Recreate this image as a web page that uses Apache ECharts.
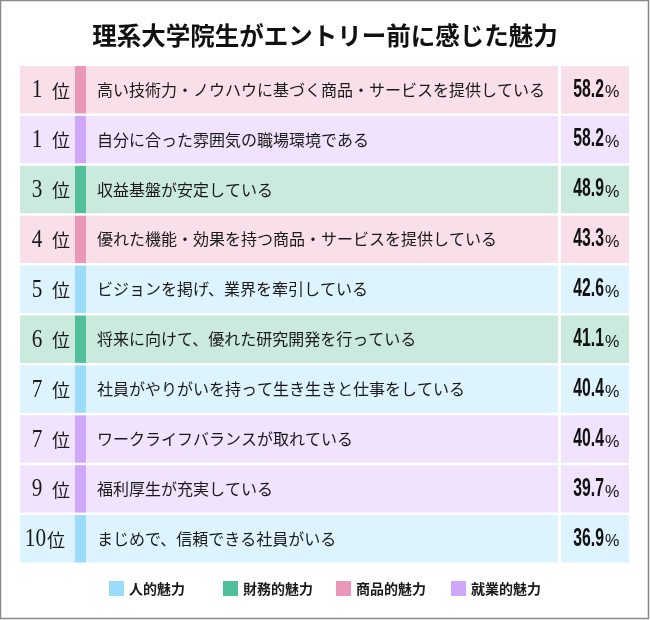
<!DOCTYPE html>
<html>
<head>
<meta charset="utf-8">
<script src="https://cdn.jsdelivr.net/npm/echarts@6/dist/echarts.min.js"></script>
<style>
  html, body { margin: 0; padding: 0; background: #fff; }
  #chart { width: 650px; height: 620px; }
</style>
</head>
<body>
<div id="chart"></div>
<script>
// data
var ranks = ['1', '1', '3', '4', '5', '6', '7', '7', '9', '10'];
var items = [
    '高い技術力・ノウハウに基づく商品・サービスを提供している',
    '自分に合った雰囲気の職場環境である',
    '収益基盤が安定している',
    '優れた機能・効果を持つ商品・サービスを提供している',
    'ビジョンを掲げ、業界を牽引している',
    '将来に向けて、優れた研究開発を行っている',
    '社員がやりがいを持って生き生きと仕事をしている',
    'ワークライフバランスが取れている',
    '福利厚生が充実している',
    'まじめで、信頼できる社員がいる'
];
var values = [58.2, 58.2, 48.9, 43.3, 42.6, 41.1, 40.4, 40.4, 39.7, 36.9];
var groups = ['商品的魅力', '就業的魅力', '財務的魅力', '商品的魅力', '人的魅力',
              '財務的魅力', '人的魅力', '就業的魅力', '就業的魅力', '人的魅力'];
var groupNames = ['人的魅力', '財務的魅力', '商品的魅力', '就業的魅力'];

var stripColors = {
    '人的魅力': '#9bdcfb',
    '財務的魅力': '#52bf9b',
    '商品的魅力': '#eb97b9',
    '就業的魅力': '#cfa8fb'
};
var bgColors = {
    '人的魅力': '#ddf3fd',
    '財務的魅力': '#cbeade',
    '商品的魅力': '#f9dfea',
    '就業的魅力': '#f1e3fd'
};
var legendLeft = [109, 223, 336, 451];

var JP = '"Noto Sans CJK JP", sans-serif';
var SERIF = '"Liberation Serif", serif';
var SANS = '"Liberation Sans", sans-serif';

function renderRow(params, api) {
    var i = api.value(0);
    var name = groupNames[params.seriesIndex];
    var cy = api.coord([0, i])[1];
    var band = api.size([0, 1])[1];
    var cs = params.coordSys;
    var x0 = cs.x;
    var right = cs.x + cs.width;
    var top = cy - band / 2;
    var h = band - 2.5;
    var mid = top + h / 2;
    var bg = bgColors[name];
    var rank = ranks[i];
    var pct = values[i].toFixed(1);
    var wide = rank.length > 1;
    return {
        type: 'group',
        children: [
            { type: 'rect', shape: { x: x0, y: top, width: 56, height: h }, style: { fill: bg } },
            { type: 'rect', shape: { x: x0 + 55, y: top, width: 11, height: h }, style: { fill: stripColors[name] } },
            { type: 'rect', shape: { x: x0 + 66, y: top, width: 472, height: h }, style: { fill: bg } },
            { type: 'rect', shape: { x: x0 + 541, y: top, width: right - x0 - 541, height: h }, style: { fill: bg } },
            {
                type: 'text',
                x: wide ? x0 + 26 : x0 + 17, y: mid + 1,
                scaleX: 0.85,
                style: {
                    text: rank,
                    fontFamily: SERIF, fontSize: 25, fill: '#1a1a1a',
                    align: wide ? 'right' : 'center', verticalAlign: 'middle'
                }
            },
            {
                type: 'text',
                x: wide ? x0 + 27 : x0 + 32, y: mid + 1,
                style: {
                    text: '位',
                    fontFamily: JP, fontSize: 18, fill: '#1a1a1a',
                    align: 'left', verticalAlign: 'middle'
                }
            },
            {
                type: 'text',
                x: x0 + 77, y: mid,
                style: {
                    text: items[i],
                    fontFamily: JP, fontSize: 16, fill: '#1a1a1a',
                    align: 'left', verticalAlign: 'middle'
                }
            },
            {
                type: 'text',
                x: x0 + 584, y: mid,
                scaleX: 0.63,
                style: {
                    text: pct,
                    fontFamily: SANS, fontWeight: 'bold', fontSize: 25, fill: '#111',
                    align: 'right', verticalAlign: 'middle'
                }
            },
            {
                type: 'text',
                x: x0 + 585, y: mid + 3,
                scaleX: 0.95,
                style: {
                    text: '%',
                    fontFamily: SANS, fontSize: 17, fill: '#111',
                    align: 'left', verticalAlign: 'middle'
                }
            }
        ]
    };
}

var series = groupNames.map(function (name) {
    var rows = [];
    for (var i = 0; i < groups.length; i++) {
        if (groups[i] === name) rows.push([i, values[i]]);
    }
    return {
        name: name,
        type: 'custom',
        encode: { y: 0 },
        itemStyle: { color: stripColors[name] },
        renderItem: renderRow,
        data: rows
    };
});

// one legend per group so each sits where the reference puts it
var legends = groupNames.map(function (name, k) {
    return {
        data: [name],
        left: legendLeft[k] - 5,
        top: 576,
        icon: 'rect',
        itemWidth: 15,
        itemHeight: 15,
        itemGap: 0,
        selectedMode: false,
        textStyle: { fontFamily: JP, fontSize: 14, fontWeight: 'bold', color: '#1a1a1a' }
    };
});

var chart = echarts.init(document.getElementById('chart'));
chart.setOption({
    animation: false,
    title: {
        text: '理系大学院生がエントリー前に感じた魅力',
        left: 'center',
        top: 18,
        textStyle: { fontFamily: JP, fontSize: 24.5, fontWeight: 'bold', color: '#111' }
    },
    legend: legends,
    grid: { left: 20, right: 21, top: 66, height: 499 },
    xAxis: { type: 'value', min: 0, max: 100, show: false },
    yAxis: {
        type: 'category',
        inverse: true,
        data: items.map(function (d, i) { return i; }),
        show: false
    },
    graphic: [{
        type: 'rect',
        shape: { x: 0.5, y: 0.5, width: 648, height: 618 },
        style: { fill: 'none', stroke: '#8a8a8a', lineWidth: 1.5 },
        silent: true
    }],
    series: series
});
</script>
</body>
</html>
